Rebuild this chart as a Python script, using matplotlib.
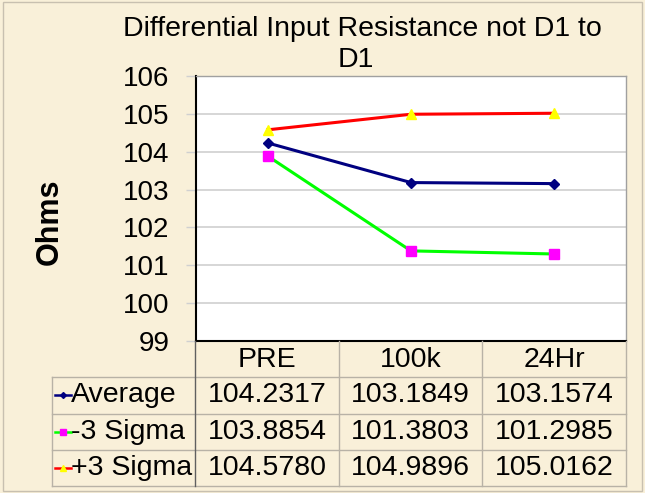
import numpy as np
import matplotlib.pyplot as plt
from matplotlib.patches import Rectangle

plt.rcParams['font.family'] = ['Liberation Sans', 'DejaVu Sans']

# data
categories = ['PRE', '100k', '24Hr']
series_names = ['Average', '-3 Sigma', '+3 Sigma']
average = [104.2317, 103.1849, 103.1574]
minus3 = [103.8854, 101.3803, 101.2985]
plus3 = [104.5780, 104.9896, 105.0162]
yticks = [99, 100, 101, 102, 103, 104, 105, 106]
title_lines = ['Differential Input Resistance not D1 to', 'D1']

# styles: line colour, marker, marker colour, marker size
styles = [('#000080', 'D', '#000080', 5),
          ('#00FF00', 's', '#FF00FF', 6.5),
          ('#FF0000', '^', '#FFFF00', 7)]
all_series = [average, minus3, plus3]

bg = '#F9F0D9'
fig = plt.figure(figsize=(6.45, 4.93), dpi=100, facecolor=bg)
fig.patches.append(Rectangle((0.004, 0.004), 0.992, 0.992, transform=fig.transFigure,
                             fill=False, edgecolor='#C8C0B0', linewidth=1.0))

# main plot
ax = fig.add_axes([196 / 645, 1 - 341 / 493, 430 / 645, 265 / 493])
ax.set_facecolor('white')
x = np.arange(len(categories))
for vals, (lc, mk, mc, ms) in zip(all_series, styles):
    ax.plot(x, vals, color=lc, lw=2.2, marker=mk, markersize=ms,
            markerfacecolor=mc, markeredgecolor=mc, zorder=3)
ax.set_xlim(-0.5, 2.5)
ax.set_ylim(99, 106)
ax.set_yticks(yticks)
ax.set_xticks([])
ax.yaxis.grid(True, color='#D0D0D0', lw=1.2)
ax.set_axisbelow(True)
ax.tick_params(axis='y', length=7, width=1, color='#D0D0D0', pad=12, labelsize=20)
for s in ['left', 'bottom']:
    ax.spines[s].set_color('black')
    ax.spines[s].set_linewidth(1.5)
for s in ['top', 'right']:
    ax.spines[s].set_color('#A0A0A0')
    ax.spines[s].set_linewidth(1.0)
ax.set_ylabel('Ohms', fontsize=22, fontweight='bold')
ax.yaxis.set_label_coords(-0.305, 0.45)

# title, wrapped as in the reference
fig.text(362 / 645, 1 - 29 / 493, title_lines[0], ha='center', va='center', fontsize=20.5)
fig.text(356 / 645, 1 - 60 / 493, title_lines[1], ha='center', va='center', fontsize=20.5)

# data table
tx = fig.add_axes([52 / 645, 1 - 486 / 493, 574 / 645, 145 / 493])
tx.set_xlim(-1, 3)
tx.set_ylim(4, 0)
tx.axis('off')
tx.patch.set_alpha(0)
gc = '#B8B2A6'
for yy in [1, 2, 3, 4]:
    tx.plot([-1, 3], [yy, yy], color=gc, lw=1, clip_on=False)
tx.plot([-1, -1], [1, 4], color=gc, lw=1, clip_on=False)
tx.plot([0, 0], [0, 4], color='#606060', lw=1, clip_on=False)
for xx in [1, 2, 3]:
    tx.plot([xx, xx], [0, 4], color=gc, lw=1, clip_on=False)
for i, c in enumerate(categories):
    tx.text(i + 0.5, 0.52, c, ha='center', va='center', fontsize=20.5)
for r, (name, vals, (lc, mk, mc, ms)) in enumerate(zip(series_names, all_series, styles)):
    yy = r + 1.5
    tx.plot([-0.98, -0.87], [yy, yy], color=lc, lw=1.8)
    tx.plot([-0.925], [yy], marker=mk, markersize=ms - 2, color=mc, markeredgecolor=mc)
    tx.text(-0.868, yy, name, ha='left', va='center', fontsize=20.5)
    for i, v in enumerate(vals):
        tx.text(i + 0.5, yy, '{:.4f}'.format(v), ha='center', va='center', fontsize=20.5)

fig.savefig('out.png', dpi=100, facecolor=bg)
